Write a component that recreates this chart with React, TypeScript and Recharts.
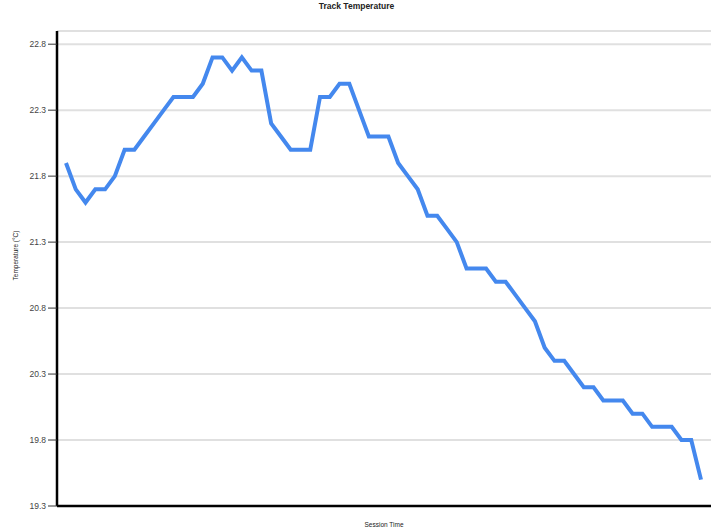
import { LineChart, Line, XAxis, YAxis, CartesianGrid, Label } from 'recharts';

const TRACK_TEMP = [
  21.9, 21.7, 21.6, 21.7, 21.7, 21.8, 22.0, 22.0, 22.1, 22.2,
  22.3, 22.4, 22.4, 22.4, 22.5, 22.7, 22.7, 22.6, 22.7, 22.6,
  22.6, 22.2, 22.1, 22.0, 22.0, 22.0, 22.4, 22.4, 22.5, 22.5,
  22.3, 22.1, 22.1, 22.1, 21.9, 21.8, 21.7, 21.5, 21.5, 21.4,
  21.3, 21.1, 21.1, 21.1, 21.0, 21.0, 20.9, 20.8, 20.7, 20.5,
  20.4, 20.4, 20.3, 20.2, 20.2, 20.1, 20.1, 20.1, 20.0, 20.0,
  19.9, 19.9, 19.9, 19.8, 19.8, 19.5,
];

const TEMP_TICKS = [19.3, 19.8, 20.3, 20.8, 21.3, 21.8, 22.3, 22.8];

const data = TRACK_TEMP.map((temp) => ({ temp }));

const FONT = '"Liberation Sans", Arial, sans-serif';

// rotated axis title, placed beside the tick labels
function YTitle(props: any) {
  const vb = props.viewBox || {};
  const cx = 15;
  const cy = vb.y + vb.height / 2 - 13;
  return (
    <text
      x={cx}
      y={cy}
      transform={`rotate(-90, ${cx}, ${cy})`}
      textAnchor="middle"
      dominantBaseline="central"
      fontSize={6.5}
      fontFamily={FONT}
      fill="#222"
    >
      Temperature (°C)
    </text>
  );
}

export default function App() {
  return (
    <div style={{ position: 'absolute', left: 0, top: 0, width: 721, height: 532, background: '#fff' }}>
      <div
        style={{
          position: 'absolute',
          top: 1,
          left: 0,
          width: 713,
          textAlign: 'center',
          fontFamily: FONT,
          fontWeight: 'bold',
          fontSize: 8.5,
          color: '#222',
        }}
      >
        Track Temperature
      </div>
      <LineChart width={721} height={532} data={data} margin={{ top: 31, right: 10, bottom: 0, left: 0 }}>
        <CartesianGrid vertical={false} stroke="#e0e0e0" strokeWidth={2} />
        <XAxis
          tick={false}
          tickLine={false}
          height={26}
          padding={{ left: 9, right: 10 }}
          axisLine={{ stroke: '#000', strokeWidth: 2.5 }}
        >
          <Label
            value="Session Time"
            position="insideBottom"
            offset={5}
            style={{ fontSize: 6.5, fontFamily: FONT, fill: '#222' }}
          />
        </XAxis>
        <YAxis
          width={57}
          domain={[19.3, 22.9]}
          ticks={TEMP_TICKS}
          interval={0}
          tickSize={9}
          tick={{ fontSize: 8.5, fontFamily: FONT, fill: '#444' }}
          tickLine={{ stroke: '#333' }}
          axisLine={{ stroke: '#000', strokeWidth: 2.5 }}
          tickFormatter={(v) => Number(v).toFixed(1)}
        >
          <Label content={<YTitle />} position="center" />
        </YAxis>
        <Line
          type="linear"
          dataKey="temp"
          stroke="#4488ee"
          strokeWidth={4}
          dot={false}
          isAnimationActive={false}
        />
      </LineChart>
    </div>
  );
}
